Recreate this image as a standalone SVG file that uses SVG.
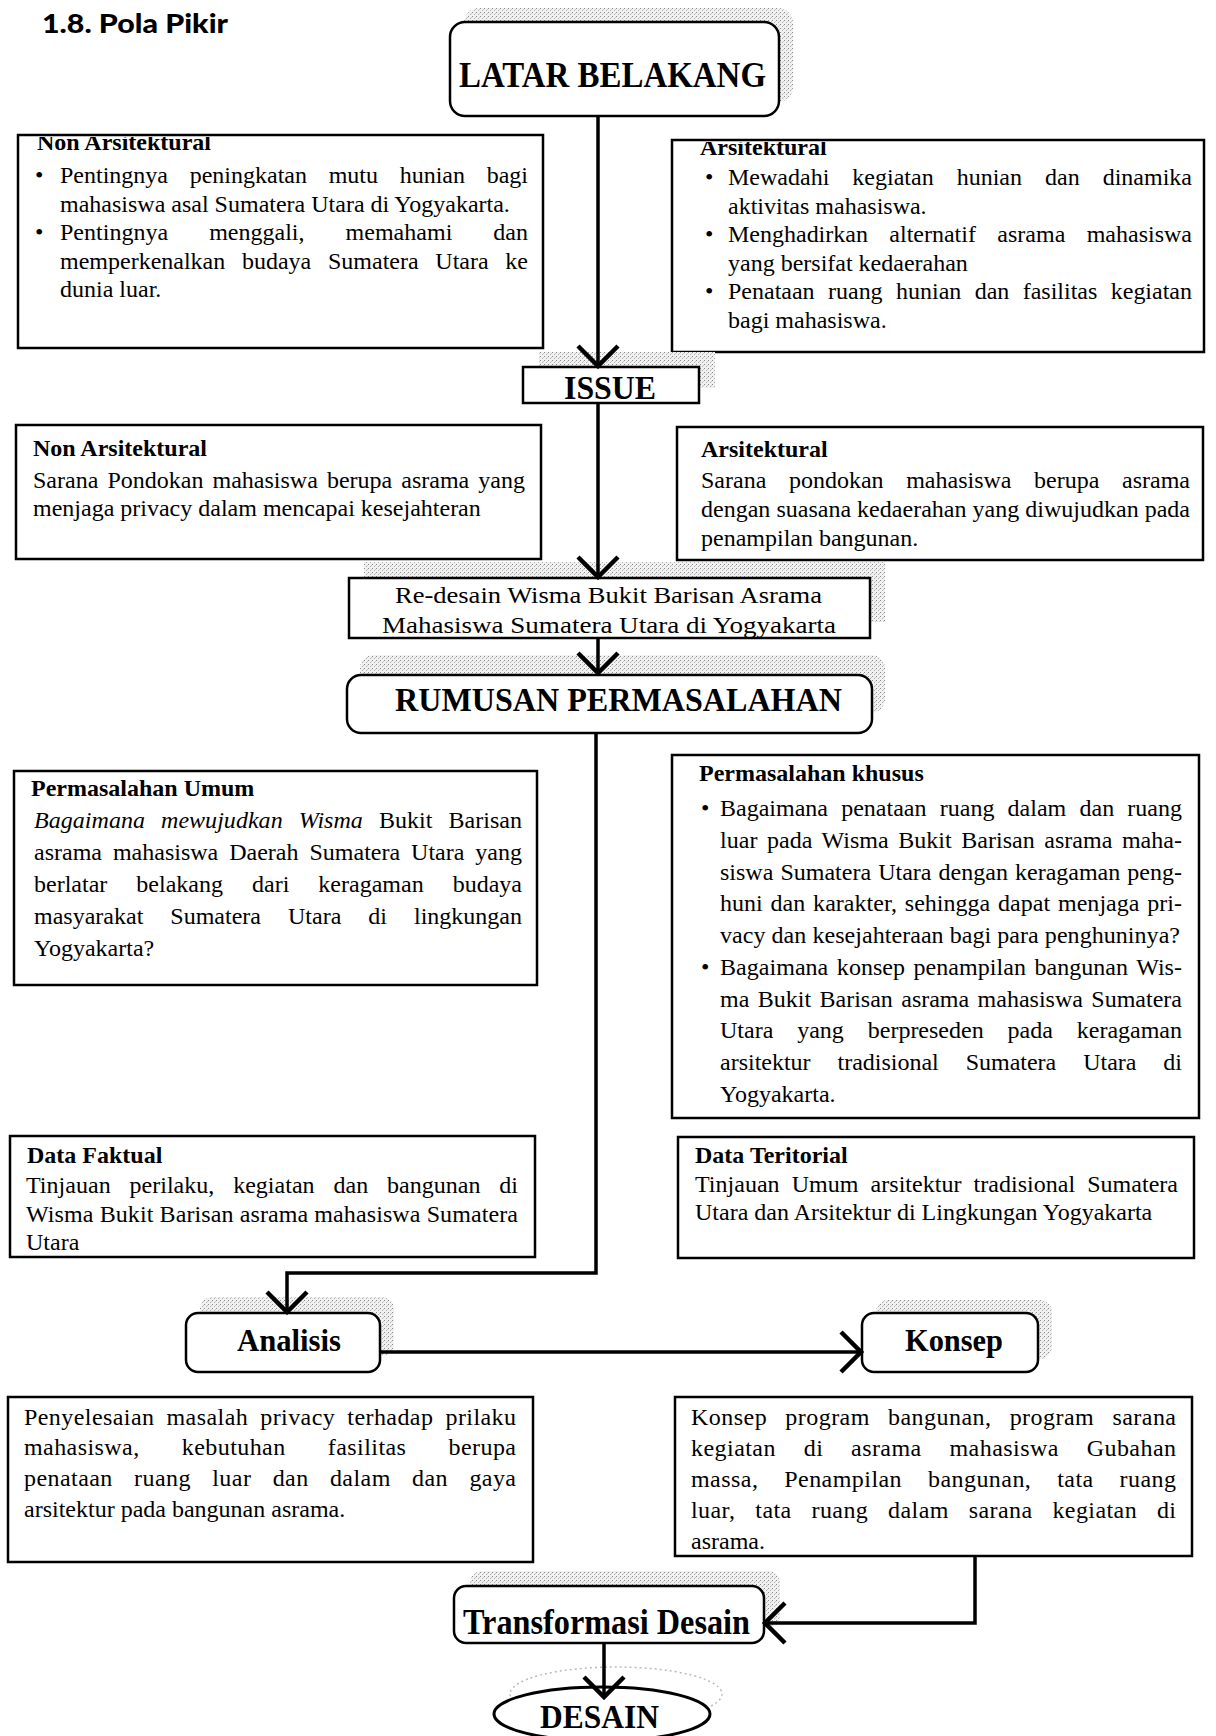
<svg xmlns="http://www.w3.org/2000/svg" width="1216" height="1736" viewBox="0 0 1216 1736">
<defs>
<style>
.t{font-family:"Liberation Serif","Times New Roman",serif;font-size:24px;fill:#000}
.b{font-weight:bold}
.lg{font-family:"Liberation Serif","Times New Roman",serif;font-weight:bold;fill:#000}
.box{fill:#fff;stroke:#000;stroke-width:2.5}
.sh{fill:url(#stip);stroke:none}
.c{fill:none;stroke:#000;stroke-width:3.5}
</style>
<pattern id="stip" width="4" height="4" patternUnits="userSpaceOnUse">
<rect width="4" height="4" fill="#f1f1f1"/>
<rect x="0" y="0" width="1" height="1" fill="#8a8a8a"/>
<rect x="2" y="2" width="1" height="1" fill="#b0b0b0"/>
<rect x="3" y="1" width="1" height="1" fill="#c8c8c8"/>
</pattern>
<marker id="v" markerUnits="userSpaceOnUse" viewBox="-26 -26 30 52" refX="0" refY="0" markerWidth="30" markerHeight="52" orient="auto" overflow="visible">
<path d="M-20,-20 L0,0 L-20,20" fill="none" stroke="#000" stroke-width="4.5"/>
</marker>
<clipPath id="cl1"><rect x="18" y="137" width="525" height="60"/></clipPath>
<clipPath id="cl2"><rect x="672" y="142" width="532" height="60"/></clipPath>
</defs>
<rect width="1216" height="1736" fill="#fff"/>

<text x="42" y="33" textLength="186" lengthAdjust="spacingAndGlyphs" style="font-family:Lato,'Liberation Sans',sans-serif;font-weight:900;font-size:27px">1.8. Pola Pikir</text>

<g id="latar">
<rect class="sh" x="464" y="8" width="329" height="94" rx="15"/>
<rect class="box" x="450" y="22" width="329" height="94" rx="15"/>
<text class="lg" x="459" y="87" font-size="35" textLength="307" lengthAdjust="spacingAndGlyphs">LATAR BELAKANG</text>
</g>

<g id="non-ars-1">
<rect class="box" x="18" y="135" width="525" height="213"/>
<text class="t b" x="37" y="150" clip-path="url(#cl1)">Non Arsitektural</text>
<text class="t" x="35" y="183">•</text>
<text class="t" x="60" y="183" textLength="468" lengthAdjust="spacing" style="word-spacing:15.7px">Pentingnya peningkatan mutu hunian bagi</text>
<text class="t" x="60" y="211.5">mahasiswa asal Sumatera Utara di Yogyakarta.</text>
<text class="t" x="35" y="240">•</text>
<text class="t" x="60" y="240" textLength="468" lengthAdjust="spacing" style="word-spacing:35px">Pentingnya menggali, memahami dan</text>
<text class="t" x="60" y="268.5" textLength="468" lengthAdjust="spacing" style="word-spacing:10.7px">memperkenalkan budaya Sumatera Utara ke</text>
<text class="t" x="60" y="297">dunia luar.</text>
</g>

<g id="ars-1">
<rect class="box" x="672" y="140" width="532" height="212"/>
<text class="t b" x="700" y="155" clip-path="url(#cl2)">Arsitektural</text>
<text class="t" x="705" y="185">•</text>
<text class="t" x="728" y="185" textLength="464" lengthAdjust="spacing" style="word-spacing:17px">Mewadahi kegiatan hunian dan dinamika</text>
<text class="t" x="728" y="213.5">aktivitas mahasiswa.</text>
<text class="t" x="705" y="242">•</text>
<text class="t" x="728" y="242" textLength="464" lengthAdjust="spacing" style="word-spacing:15.4px">Menghadirkan alternatif asrama mahasiswa</text>
<text class="t" x="728" y="270.5">yang bersifat kedaerahan</text>
<text class="t" x="705" y="299">•</text>
<text class="t" x="728" y="299" textLength="464" lengthAdjust="spacing" style="word-spacing:7.4px">Penataan ruang hunian dan fasilitas kegiatan</text>
<text class="t" x="728" y="327.5">bagi mahasiswa.</text>
</g>

<g id="issue">
<rect class="sh" x="539" y="352" width="176" height="36"/>
<rect class="box" x="523" y="367" width="176" height="36"/>
<text class="lg" x="564" y="399" font-size="34" textLength="92" lengthAdjust="spacingAndGlyphs">ISSUE</text>
</g>

<g id="non-ars-2">
<rect class="box" x="16" y="425" width="525" height="134"/>
<text class="t b" x="33" y="456">Non Arsitektural</text>
<text class="t" x="33" y="488" textLength="492" lengthAdjust="spacing" style="word-spacing:3.1px">Sarana Pondokan mahasiswa berupa asrama yang</text>
<text class="t" x="33" y="516">menjaga privacy dalam mencapai kesejahteran</text>
</g>

<g id="ars-2">
<rect class="box" x="677" y="427" width="526" height="133"/>
<text class="t b" x="701" y="457">Arsitektural</text>
<text class="t" x="701" y="488" textLength="489" lengthAdjust="spacing" style="word-spacing:16.6px">Sarana pondokan mahasiswa berupa asrama</text>
<text class="t" x="701" y="517" textLength="489" lengthAdjust="spacing">dengan suasana kedaerahan yang diwujudkan pada</text>
<text class="t" x="701" y="546">penampilan bangunan.</text>
</g>

<g id="redesain">
<rect class="sh" x="364" y="562" width="521" height="60"/>
<rect class="box" x="349" y="578" width="521" height="60"/>
<text class="t" x="395" y="603" font-size="27" textLength="427" lengthAdjust="spacingAndGlyphs">Re-desain Wisma Bukit Barisan Asrama</text>
<text class="t" x="382" y="633" font-size="27" textLength="454" lengthAdjust="spacingAndGlyphs">Mahasiswa Sumatera Utara di Yogyakarta</text>
</g>

<g id="rumusan">
<rect class="sh" x="360" y="655" width="525" height="58" rx="14"/>
<rect class="box" x="347" y="675" width="525" height="58" rx="14"/>
<text class="lg" x="395" y="711" font-size="34" textLength="447" lengthAdjust="spacingAndGlyphs">RUMUSAN PERMASALAHAN</text>
</g>

<g id="perm-umum">
<rect class="box" x="14" y="771" width="523" height="214"/>
<text class="t b" x="31" y="796">Permasalahan Umum</text>
<text class="t" x="34" y="828" textLength="488" lengthAdjust="spacing" style="word-spacing:10px"><tspan font-style="italic">Bagaimana mewujudkan Wisma</tspan> Bukit Barisan</text>
<text class="t" x="34" y="860" textLength="488" lengthAdjust="spacing" style="word-spacing:5px">asrama mahasiswa Daerah Sumatera Utara yang</text>
<text class="t" x="34" y="892" textLength="488" lengthAdjust="spacing" style="word-spacing:23px">berlatar belakang dari keragaman budaya</text>
<text class="t" x="34" y="924" textLength="488" lengthAdjust="spacing" style="word-spacing:21px">masyarakat Sumatera Utara di lingkungan</text>
<text class="t" x="34" y="956">Yogyakarta?</text>
</g>

<g id="perm-khusus">
<rect class="box" x="672" y="755" width="527" height="363"/>
<text class="t b" x="699" y="781">Permasalahan khusus</text>
<text class="t" x="701" y="816">•</text>
<text class="t" x="720" y="816" textLength="462" lengthAdjust="spacing" style="word-spacing:7.2px">Bagaimana penataan ruang dalam dan ruang</text>
<text class="t" x="720" y="847.75" textLength="462" lengthAdjust="spacing" style="word-spacing:3.5px">luar pada Wisma Bukit Barisan asrama maha-</text>
<text class="t" x="720" y="879.5" textLength="462" lengthAdjust="spacing" style="word-spacing:1.1px">siswa Sumatera Utara dengan keragaman peng-</text>
<text class="t" x="720" y="911.25" textLength="462" lengthAdjust="spacing" style="word-spacing:1.8px">huni dan karakter, sehingga dapat menjaga pri-</text>
<text class="t" x="720" y="943" textLength="460" lengthAdjust="spacing">vacy dan kesejahteraan bagi para penghuninya?</text>
<text class="t" x="701" y="974.75">•</text>
<text class="t" x="720" y="974.75" textLength="462" lengthAdjust="spacing" style="word-spacing:2.5px">Bagaimana konsep penampilan bangunan Wis-</text>
<text class="t" x="720" y="1006.5" textLength="462" lengthAdjust="spacing" style="word-spacing:2.4px">ma Bukit Barisan asrama mahasiswa Sumatera</text>
<text class="t" x="720" y="1038.25" textLength="462" lengthAdjust="spacing" style="word-spacing:17.9px">Utara yang berpreseden pada keragaman</text>
<text class="t" x="720" y="1070" textLength="462" lengthAdjust="spacing" style="word-spacing:20.9px">arsitektur tradisional Sumatera Utara di</text>
<text class="t" x="720" y="1101.75">Yogyakarta.</text>
</g>

<g id="data-faktual">
<rect class="box" x="10" y="1136" width="525" height="121"/>
<text class="t b" x="27" y="1163">Data Faktual</text>
<text class="t" x="26" y="1193" textLength="492" lengthAdjust="spacing" style="word-spacing:12.8px">Tinjauan perilaku, kegiatan dan bangunan di</text>
<text class="t" x="26" y="1222" textLength="492" lengthAdjust="spacing">Wisma Bukit Barisan asrama mahasiswa Sumatera</text>
<text class="t" x="26" y="1250">Utara</text>
</g>

<g id="data-teritorial">
<rect class="box" x="678" y="1137" width="516" height="121"/>
<text class="t b" x="695" y="1163">Data Teritorial</text>
<text class="t" x="695" y="1192" textLength="483" lengthAdjust="spacing" style="word-spacing:6.1px">Tinjauan Umum arsitektur tradisional Sumatera</text>
<text class="t" x="695" y="1220">Utara dan Arsitektur di Lingkungan Yogyakarta</text>
</g>

<g id="analisis">
<rect class="sh" x="200" y="1297" width="194" height="59" rx="12"/>
<rect class="box" x="186" y="1313" width="194" height="59" rx="12"/>
<text class="lg" x="237" y="1351" font-size="31" textLength="104" lengthAdjust="spacingAndGlyphs">Analisis</text>
</g>

<g id="konsep">
<rect class="sh" x="876" y="1300" width="176" height="59" rx="12"/>
<rect class="box" x="862" y="1313" width="176" height="59" rx="12"/>
<text class="lg" x="905" y="1351" font-size="31" textLength="98" lengthAdjust="spacingAndGlyphs">Konsep</text>
</g>

<g id="penyelesaian">
<rect class="box" x="8" y="1397" width="525" height="165"/>
<text class="t" x="24" y="1425" font-size="25" textLength="492" lengthAdjust="spacing" style="word-spacing:5.7px">Penyelesaian masalah privacy terhadap prilaku</text>
<text class="t" x="24" y="1455" font-size="25" textLength="492" lengthAdjust="spacing" style="word-spacing:35.8px">mahasiswa, kebutuhan fasilitas berupa</text>
<text class="t" x="24" y="1486" font-size="25" textLength="492" lengthAdjust="spacing" style="word-spacing:14.9px">penataan ruang luar dan dalam dan gaya</text>
<text class="t" x="24" y="1517" font-size="25">arsitektur pada bangunan asrama.</text>
</g>

<g id="konsep-detail">
<rect class="box" x="675" y="1397" width="517" height="159"/>
<text class="t" x="691" y="1425" font-size="25" textLength="485" lengthAdjust="spacing" style="word-spacing:11.7px">Konsep program bangunan, program sarana</text>
<text class="t" x="691" y="1456" font-size="25" textLength="485" lengthAdjust="spacing" style="word-spacing:21.3px">kegiatan di asrama mahasiswa Gubahan</text>
<text class="t" x="691" y="1487" font-size="25" textLength="485" lengthAdjust="spacing" style="word-spacing:19.5px">massa, Penampilan bangunan, tata ruang</text>
<text class="t" x="691" y="1518" font-size="25" textLength="485" lengthAdjust="spacing" style="word-spacing:13.4px">luar, tata ruang dalam sarana kegiatan di</text>
<text class="t" x="691" y="1549" font-size="25">asrama.</text>
</g>

<g id="transformasi">
<rect class="sh" x="470" y="1571" width="310" height="57" rx="12"/>
<rect class="box" x="454" y="1586" width="310" height="57" rx="12"/>
<text class="lg" x="463" y="1634" font-size="35" textLength="287" lengthAdjust="spacingAndGlyphs">Transformasi Desain</text>
</g>

<g id="desain">
<ellipse cx="616" cy="1694" rx="106" ry="27" fill="none" stroke="#bbb" stroke-width="1.5" stroke-dasharray="2 3"/>
<ellipse cx="602" cy="1714" rx="108" ry="27" fill="#fff" stroke="#000" stroke-width="3"/>
<text class="lg" x="540" y="1728" font-size="34" textLength="119" lengthAdjust="spacingAndGlyphs">DESAIN</text>
</g>

<g id="connectors" class="c">
<path d="M598,116 V366" marker-end="url(#v)"/>
<path d="M598,403 V577" marker-end="url(#v)"/>
<path d="M598,638 V673" marker-end="url(#v)"/>
<path d="M596,733 V1273 H287 V1312" marker-end="url(#v)"/>
<path d="M380,1352 H861" marker-end="url(#v)"/>
<path d="M975,1556 V1623 H765" marker-end="url(#v)"/>
<path d="M604,1643 V1697" marker-end="url(#v)"/>
</g>
</svg>
